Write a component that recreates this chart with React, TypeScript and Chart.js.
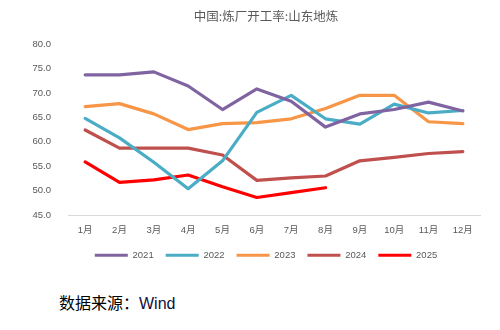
import React, { useEffect, useRef } from "react";
import { Chart, registerables } from "chart.js";

Chart.register(...registerables);

const months = ["1月", "2月", "3月", "4月", "5月", "6月", "7月", "8月", "9月", "10月", "11月", "12月"];
const s2021 = [73.7, 73.7, 74.3, 71.4, 66.6, 70.8, 68.3, 63.0, 65.7, 66.6, 68.1, 66.3];
const s2022 = [64.8, 60.8, 55.8, 50.4, 56.1, 66.0, 69.5, 64.7, 63.6, 67.7, 65.9, 66.4];
const s2023 = [67.2, 67.8, 65.7, 62.5, 63.7, 63.9, 64.7, 66.8, 69.5, 69.5, 64.1, 63.7];
const s2024 = [62.4, 58.7, 58.7, 58.7, 57.3, 52.1, 52.6, 53.0, 56.1, 56.8, 57.6, 58.0];
const s2025 = [55.9, 51.7, 52.2, 53.2, 50.8, 48.6, 49.6, 50.6];
const seriesNames = ["2021", "2022", "2023", "2024", "2025"];
const seriesColors = ["#8064A2", "#4BACC6", "#F79646", "#C0504D", "#FF0000"];
const yTicks = [45, 50, 55, 60, 65, 70, 75, 80];

export default function App() {
  const ref = useRef<HTMLCanvasElement | null>(null);
  useEffect(() => {
    if (!ref.current) return;
    const all = [s2021, s2022, s2023, s2024, s2025];
    const font = "'Liberation Sans', Arial, 'Noto Sans CJK SC', sans-serif";
    const chart = new Chart(ref.current, {
      type: "line",
      data: {
        labels: months,
        datasets: all.map((d, i) => ({
          label: seriesNames[i],
          data: d,
          borderColor: seriesColors[i],
          backgroundColor: seriesColors[i],
          borderWidth: 3.2,
          pointRadius: 0,
          pointHoverRadius: 0,
          tension: 0,
          fill: false,
          borderCapStyle: "round" as const,
          borderJoinStyle: "round" as const,
          yAxisID: "y",
        })),
      },
      options: {
        animation: false,
        responsive: false,
        maintainAspectRatio: false,
        layout: { padding: { left: 32, right: 0, top: 0, bottom: 8 } },
        plugins: {
          title: {
            display: true,
            text: "中国:炼厂开工率:山东地炼",
            color: "#595959",
            font: { size: 12.5, weight: "normal", family: "'Noto Sans CJK SC', sans-serif" },
            padding: { top: 9, bottom: 20 },
          },
          legend: {
            position: "bottom",
            labels: {
              usePointStyle: true,
              pointStyle: "line",
              pointStyleWidth: 33,
              boxHeight: 9,
              color: "#595959",
              padding: 12,
              font: { size: 9.5, family: font },
            },
          },
          tooltip: { enabled: false },
        },
        scales: {
          x: {
            offset: true,
            grid: { display: false, offset: true },
            border: { display: true, color: "#D9D9D9", width: 1 },
            ticks: { color: "#595959", font: { size: 9.5, family: font }, padding: 2, maxRotation: 0, autoSkip: false },
          },
          y: {
            min: 45,
            max: 80,
            afterBuildTicks: (s: any) => {
              s.ticks = yTicks.map((v) => ({ value: v }));
            },
            afterFit: (s: any) => {
              s.width = 36;
            },
            grid: { display: false },
            border: { display: false },
            ticks: {
              color: "#595959",
              font: { size: 9.5, family: font },
              padding: 9,
              callback: (v: any) => Number(v).toFixed(1),
            },
          },
          y2: {
            position: "right",
            min: 45,
            max: 80,
            afterFit: (s: any) => {
              s.width = 20;
            },
            grid: { display: false },
            border: { display: false },
            ticks: { display: false },
          },
        },
      },
    });
    return () => chart.destroy();
  }, []);
  return (
    <div style={{ position: "fixed", left: 0, top: 0, width: 500, height: 330, background: "#fff", overflow: "hidden" }}>
      <canvas ref={ref} width={500} height={278} style={{ position: "absolute", left: 0, top: 0, width: 500, height: 278 }} />
      <div
        style={{
          position: "absolute",
          left: 59,
          top: 292,
          fontSize: 16,
          fontFamily: "'Noto Sans CJK SC', sans-serif",
          color: "#000",
          whiteSpace: "nowrap",
          lineHeight: "20px",
        }}
      >
        数据来源：<span style={{ fontFamily: "'Liberation Sans', Arial, sans-serif", color: "#10103a" }}>Wind</span>
      </div>
    </div>
  );
}
